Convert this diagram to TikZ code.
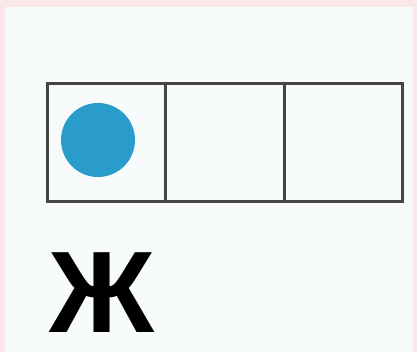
\documentclass[tikz,border=0pt]{standalone}
\usepackage{fontspec}
\newfontfamily\letterfont{Liberation Sans}
\definecolor{bgpink}{HTML}{FBE6EA}
\definecolor{bgwhite}{HTML}{F7FBFB}
\definecolor{gridline}{HTML}{454545}
\definecolor{dotblue}{HTML}{2A9CCC}
\begin{document}
\begin{tikzpicture}[x=1pt,y=-1pt,
  cell/.style={draw=gridline,line width=2.6pt,minimum width=118pt,minimum height=118pt,inner sep=0pt,outer sep=0pt},
  dot/.style={circle,fill=dotblue,minimum size=74pt,inner sep=0pt}]
\fill[bgpink] (0,0) rectangle (417,352);
\fill[bgwhite] (5,7) rectangle (413,352);
\node[cell] (c1) at (106.5,142.5) {};
\node[cell] (c2) at (225,142.5) {};
\node[cell] (c3) at (343.5,142.5) {};
\node[dot] (d) at (98,140) {};
\node[anchor=base west,inner sep=0pt,text depth=0pt,font=\letterfont\bfseries\fontsize{116}{116}\selectfont] (zh) at (49,332) {Ж};
\useasboundingbox (0,0) rectangle (417,352);
\end{tikzpicture}
\end{document}
